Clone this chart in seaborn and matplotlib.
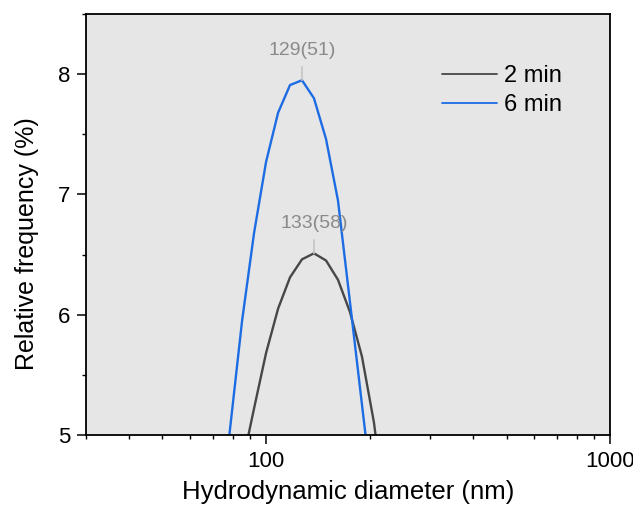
import numpy as np
import pandas as pd
import seaborn as sns
import matplotlib.pyplot as plt
from matplotlib.ticker import MultipleLocator, LogLocator, NullFormatter

# size bins (nm) and relative frequency (%)
sizes = [72.5, 78.6, 85.2, 92.3, 100.0, 108.4, 117.4, 127.2, 137.8,
         149.4, 161.8, 175.4, 190.0, 205.9, 223.1]
freq_2min = [3.6, 4.2, 4.75, 5.22, 5.68, 6.05, 6.31, 6.46, 6.51,
             6.45, 6.29, 6.02, 5.65, 5.10, 4.30]
freq_6min = [4.10, 5.05, 5.95, 6.68, 7.27, 7.68, 7.91, 7.95, 7.80,
             7.46, 6.95, 6.10, 5.25, 4.40, 3.5]
labels = ['2 min', '6 min']
peak_text = {'2 min': '133(58)', '6 min': '129(51)'}

df = pd.DataFrame({
    'size': sizes * 2,
    'freq': freq_2min + freq_6min,
    'time': [labels[0]] * len(sizes) + [labels[1]] * len(sizes),
})

sns.set_style('ticks')
plt.rcParams['font.family'] = ['Liberation Sans', 'DejaVu Sans']
plt.rcParams['text.color'] = 'black'
plt.rcParams['axes.labelcolor'] = 'black'

fig = plt.figure(figsize=(6.33, 5.05), dpi=100)
ax = fig.add_axes([0.136, 0.139, 0.828, 0.833])
ax.set_facecolor('#e6e6e6')

palette = {'2 min': '#474747', '6 min': '#1c6ce3'}
sns.lineplot(data=df, x='size', y='freq', hue='time', palette=palette,
             linewidth=1.7, ax=ax, sort=True)

ax.set_xscale('log')
ax.set_xlim(30, 1000)
ax.set_ylim(5, 8.5)
ax.set_xticks([100, 1000])
ax.set_xticklabels(['100', '1000'])
ax.xaxis.set_minor_locator(LogLocator(base=10, subs=np.arange(2, 10)))
ax.xaxis.set_minor_formatter(NullFormatter())
ax.yaxis.set_major_locator(MultipleLocator(1))
ax.yaxis.set_minor_locator(MultipleLocator(0.5))

for s in ax.spines.values():
    s.set_color('black')
    s.set_linewidth(1.3)
ax.tick_params(which='major', length=6.5, width=1.1, labelsize=16, pad=5,
               direction='out', top=False, right=False, colors='black')
ax.tick_params(which='minor', length=3.2, width=1.0, direction='out',
               top=False, right=False, colors='black')

ax.set_xlabel('Hydrodynamic diameter (nm)', fontsize=18.5, labelpad=6)
ax.set_ylabel('Relative frequency (%)', fontsize=18)
ax.yaxis.set_label_coords(-0.09, 0.455)

# peak annotations
for lab, vals in zip(labels, [freq_2min, freq_6min]):
    i = int(np.argmax(vals))
    ax.annotate(peak_text[lab], xy=(sizes[i], vals[i]), xytext=(0, 15),
                textcoords='offset points', ha='center', va='bottom',
                fontsize=14, color='#8a8a8a',
                arrowprops=dict(arrowstyle='-', color='#c4c4c4', lw=1.2,
                                shrinkA=3, shrinkB=0))

leg = ax.legend(loc='upper right', bbox_to_anchor=(0.948, 0.93), frameon=False,
                fontsize=17, handlelength=2.3, handletextpad=0.3,
                labelspacing=0.3)
for line in leg.get_lines():
    line.set_linewidth(1.3)

fig.savefig('out.png', dpi=100)
